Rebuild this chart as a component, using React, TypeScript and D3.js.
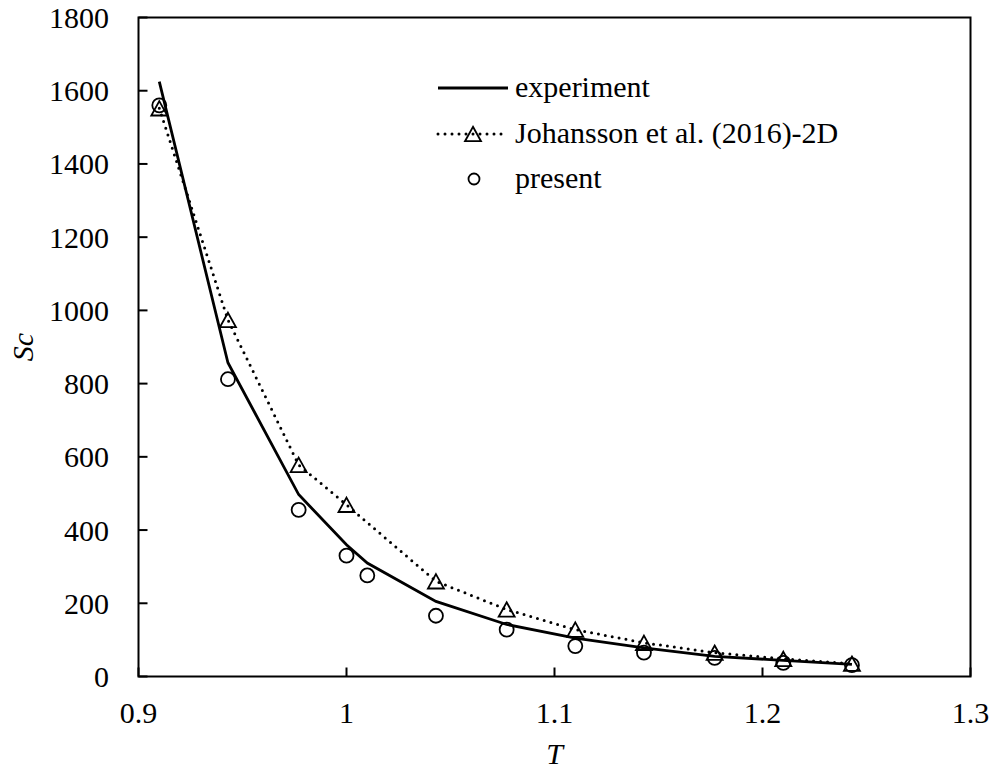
import React from "react";
import * as d3 from "d3";

const expT = [0.91, 0.943, 0.977, 1.0, 1.01, 1.043, 1.077, 1.11, 1.143, 1.177, 1.21, 1.243];
const expSc = [1625, 857, 497, 360, 310, 205, 142, 105, 78, 55, 44, 33];

const johT = [0.91, 0.943, 0.977, 1.0, 1.043, 1.077, 1.11, 1.143, 1.177, 1.21, 1.243];
const johSc = [1552, 974, 578, 469, 260, 183, 128, 92, 65, 48, 35];

const preT = [0.91, 0.943, 0.977, 1.0, 1.01, 1.043, 1.077, 1.11, 1.143, 1.177, 1.21, 1.243];
const preSc = [1560, 812, 455, 330, 276, 166, 128, 83, 65, 51, 37, 31];

const xTicks = [0.9, 1.0, 1.1, 1.2, 1.3];
const xTickLabels = ["0.9", "1", "1.1", "1.2", "1.3"];
const yTicks = [0, 200, 400, 600, 800, 1000, 1200, 1400, 1600, 1800];

const legendLabels = ["experiment", "Johansson et al. (2016)-2D", "present"];

const W = 995;
const H = 771;
const left = 138.5;
const right = 970.5;
const top = 17.5;
const bottom = 676.5;
const FONT = "Liberation Serif";
const FS = 30;
const ts = { fontFamily: FONT, fontSize: FS } as React.CSSProperties;

export default function App() {
  const x = d3.scaleLinear().domain([0.9, 1.3]).range([left, right]);
  const y = d3.scaleLinear().domain([0, 1800]).range([bottom, top]);
  const line = d3
    .line<[number, number]>()
    .x((d) => x(d[0]))
    .y((d) => y(d[1]));

  const expPts: [number, number][] = expT.map((t, i) => [t, expSc[i]]);
  const johPts: [number, number][] = johT.map((t, i) => [t, johSc[i]]);
  const prePts: [number, number][] = preT.map((t, i) => [t, preSc[i]]);

  const tri = (cx: number, cy: number, s: number) => {
    const h = s * 0.9;
    return `M${cx},${cy - h / 2}L${cx + s / 2},${cy + h / 2}L${cx - s / 2},${cy + h / 2}Z`;
  };

  const legX1 = 438;
  const legX2 = 508;
  const legTextX = 515;
  const legRows = [88, 134, 179];

  return (
    <svg width={W} height={H} style={{ position: "absolute", left: 0, top: 0, background: "#fff" }}>
      <rect x={0} y={0} width={W} height={H} fill="#fff" />
      {xTicks.map((t) => (
        <line key={"xt" + t} x1={x(t)} x2={x(t)} y1={bottom} y2={bottom - 9} stroke="#000" strokeWidth={2} />
      ))}
      {yTicks.map((t) => (
        <line key={"yt" + t} x1={left} x2={left + 9} y1={y(t)} y2={y(t)} stroke="#000" strokeWidth={2} />
      ))}
      <rect x={left} y={top} width={right - left} height={bottom - top} fill="none" stroke="#000" strokeWidth={2} />

      {xTicks.map((t, i) => (
        <text key={"xl" + t} x={x(t)} y={723} textAnchor="middle" style={ts} fill="#000">
          {xTickLabels[i]}
        </text>
      ))}
      {yTicks.map((t) => (
        <text key={"yl" + t} x={109} y={y(t)} dy="0.35em" textAnchor="end" style={ts} fill="#000">
          {t}
        </text>
      ))}

      <text x={(left + right) / 2} y={764} textAnchor="middle" style={{ ...ts, fontStyle: "italic" }} fill="#000">
        T
      </text>
      <text
        transform={`translate(33,${(top + bottom) / 2}) rotate(-90)`}
        textAnchor="middle"
        style={{ ...ts, fontStyle: "italic" }}
        fill="#000"
      >
        Sc
      </text>

      <path d={line(expPts) || ""} fill="none" stroke="#000" strokeWidth={2.8} />
      <path
        d={line(johPts) || ""}
        fill="none"
        stroke="#000"
        strokeWidth={3}
        strokeDasharray="0,7"
        strokeLinecap="round"
      />
      {johPts.map((p, i) => (
        <path key={"tr" + i} d={tri(x(p[0]), y(p[1]), 16)} fill="none" stroke="#000" strokeWidth={1.8} />
      ))}
      {prePts.map((p, i) => (
        <circle key={"c" + i} cx={x(p[0])} cy={y(p[1])} r={7} fill="none" stroke="#000" strokeWidth={1.8} />
      ))}

      <line x1={legX1} x2={legX2} y1={legRows[0]} y2={legRows[0]} stroke="#000" strokeWidth={2.8} />
      <line
        x1={legX1}
        x2={legX2}
        y1={legRows[1]}
        y2={legRows[1]}
        stroke="#000"
        strokeWidth={3}
        strokeDasharray="0,7"
        strokeLinecap="round"
      />
      <path d={tri((legX1 + legX2) / 2, legRows[1], 16)} fill="none" stroke="#000" strokeWidth={1.8} />
      <circle cx={(legX1 + legX2) / 2 + 1} cy={legRows[2]} r={5.5} fill="none" stroke="#000" strokeWidth={1.8} />
      {legendLabels.map((l, i) => (
        <text key={"lg" + i} x={legTextX} y={legRows[i]} dy="0.3em" style={ts} fill="#000">
          {l}
        </text>
      ))}
    </svg>
  );
}
